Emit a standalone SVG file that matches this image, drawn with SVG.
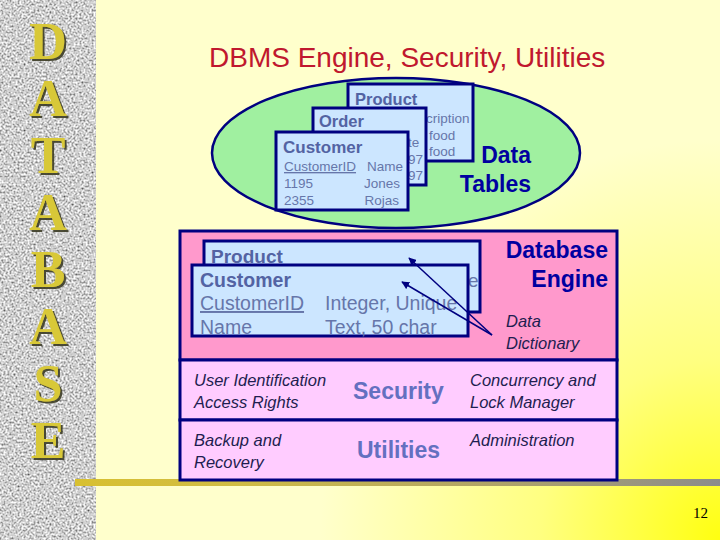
<svg xmlns="http://www.w3.org/2000/svg" width="720" height="540" viewBox="0 0 720 540">
<defs>
  <radialGradient id="bg" cx="720" cy="540" r="400" gradientUnits="userSpaceOnUse">
    <stop offset="0" stop-color="#FFFF10"/>
    <stop offset="0.45" stop-color="#FFFF80"/>
    <stop offset="1" stop-color="#FFFFCC"/>
  </radialGradient>
  <linearGradient id="bar" x1="75" y1="0" x2="720" y2="0" gradientUnits="userSpaceOnUse">
    <stop offset="0" stop-color="#D8C030"/>
    <stop offset="0.25" stop-color="#D0BC44"/>
    <stop offset="0.65" stop-color="#B0A468"/>
    <stop offset="1" stop-color="#8C8C8C"/>
  </linearGradient>
  <filter id="granite" x="0" y="0" width="100%" height="100%">
    <feTurbulence type="fractalNoise" baseFrequency="0.5" numOctaves="3" seed="7"/>
    <feColorMatrix type="matrix" values="1.55 0 0 0 -0.15  1.55 0 0 0 -0.15  1.55 0 0 0 -0.15  0 0 0 0 1"/>
  </filter>
  <filter id="shadow" x="-20%" y="-20%" width="140%" height="140%">
    <feDropShadow dx="2" dy="2" stdDeviation="0.6" flood-color="#3A3A20" flood-opacity="0.9"/>
  </filter>
  <marker id="arr" viewBox="0 0 10 10" refX="9" refY="5" markerWidth="8" markerHeight="8" markerUnits="userSpaceOnUse" orient="auto">
    <path d="M0,0 L10,5 L0,10 z" fill="#000080"/>
  </marker>
  <style>
    .sans{font-family:"Liberation Sans",Arial,sans-serif}
    .letter{font-family:"Liberation Serif","Times New Roman",serif;font-weight:bold;font-size:52px;text-anchor:middle;fill:#D8C838}
    .box{fill:#CCE6FF;stroke:#000080;stroke-width:3}
    .th{font-family:"Liberation Sans",Arial,sans-serif;font-weight:bold;fill:#5363A3}
    .tr{font-family:"Liberation Sans",Arial,sans-serif;fill:#6676AA}
    .big{font-family:"Liberation Sans",Arial,sans-serif;font-weight:bold;fill:#0000A0}
    .it{font-family:"Liberation Sans",Arial,sans-serif;font-style:italic;font-size:16.5px;fill:#1E1E50}
    .mid{font-family:"Liberation Sans",Arial,sans-serif;font-weight:bold;font-size:23px;fill:#6470C0}
    .conn{stroke:#000080;stroke-width:1.5;fill:none}
  </style>
</defs>

<rect x="0" y="0" width="720" height="540" fill="url(#bg)"/>

<g id="strip">
  <rect x="0" y="0" width="96" height="540" fill="#A0A0A0" filter="url(#granite)"/>
  <g class="letter" filter="url(#shadow)">
    <text x="48" y="59">D</text>
    <text x="48" y="116">A</text>
    <text x="48" y="173">T</text>
    <text x="48" y="230">A</text>
    <text x="48" y="287">B</text>
    <text x="48" y="344">A</text>
    <text x="48" y="401">S</text>
    <text x="48" y="458">E</text>
  </g>
</g>

<rect id="rule" x="75" y="479" width="645" height="7" fill="url(#bar)"/>

<text id="title" class="sans" x="209" y="67" font-size="28" fill="#C0182E">DBMS Engine, Security, Utilities</text>

<g id="data-tables">
  <ellipse cx="396" cy="153" rx="184" ry="75" fill="#A0F0A0" stroke="#000080" stroke-width="2.5"/>
  <text class="big" font-size="23" text-anchor="end" x="531" y="163">Data</text>
  <text class="big" font-size="23" text-anchor="end" x="531" y="192">Tables</text>
</g>

<g id="tbl-product">
  <rect class="box" x="348" y="84" width="125" height="77"/>
  <text class="th" font-size="16.5" x="355" y="105">Product</text>
  <text class="tr" font-size="13.5" x="426" y="123">cription</text>
  <text class="tr" font-size="13.5" x="429" y="140">food</text>
  <text class="tr" font-size="13.5" x="429" y="156">food</text>
</g>

<g id="tbl-order">
  <rect class="box" x="313" y="108" width="113" height="77"/>
  <text class="th" font-size="16.5" x="319" y="127">Order</text>
  <text class="tr" font-size="13.5" x="408" y="147">te</text>
  <text class="tr" font-size="13.5" x="408" y="164">97</text>
  <text class="tr" font-size="13.5" x="408" y="180">97</text>
</g>

<g id="tbl-customer">
  <rect class="box" x="276" y="132" width="132" height="78"/>
  <text class="th" font-size="17" x="283" y="153">Customer</text>
  <text class="tr" font-size="13.5" x="284" y="171" text-decoration="underline">CustomerID</text>
  <text class="tr" font-size="13.5" x="403" y="171" text-anchor="end">Name</text>
  <text class="tr" font-size="13.5" x="284" y="188">1195</text>
  <text class="tr" font-size="13.5" x="400" y="188" text-anchor="end">Jones</text>
  <text class="tr" font-size="13.5" x="284" y="205">2355</text>
  <text class="tr" font-size="13.5" x="399" y="205" text-anchor="end">Rojas</text>
</g>

<g id="engine">
  <rect x="180" y="231" width="437" height="129" fill="#FF99CC" stroke="#000080" stroke-width="3"/>
  <text class="big" font-size="23" text-anchor="end" x="608" y="258">Database</text>
  <text class="big" font-size="23" text-anchor="end" x="608" y="287">Engine</text>
  <text class="it" x="506" y="327">Data</text>
  <text class="it" x="506" y="349">Dictionary</text>
</g>

<g id="dict-product">
  <rect class="box" x="204" y="241" width="276" height="71"/>
  <text class="th" font-size="19" x="211" y="263">Product</text>
  <text class="tr" font-size="19" x="468" y="287" fill="#7080B0">e</text>
</g>

<g id="dict-customer">
  <rect class="box" x="192" y="265" width="276" height="71"/>
  <text class="th" font-size="19.5" x="200" y="287">Customer</text>
  <text class="tr" font-size="19.5" x="200" y="310" text-decoration="underline">CustomerID</text>
  <text class="tr" font-size="19.5" x="325" y="310">Integer, Unique</text>
  <text class="tr" font-size="19.5" x="200" y="334">Name</text>
  <text class="tr" font-size="19.5" x="325" y="334">Text, 50 char</text>
</g>

<g id="security">
  <rect x="180" y="360" width="437" height="60" fill="#FFCCFF" stroke="#000080" stroke-width="3"/>
  <text class="it" x="194" y="386">User Identification</text>
  <text class="it" x="194" y="408">Access Rights</text>
  <text class="mid" x="353" y="399">Security</text>
  <text class="it" x="470" y="386">Concurrency and</text>
  <text class="it" x="470" y="408">Lock Manager</text>
</g>

<g id="utilities">
  <rect x="180" y="420" width="437" height="60" fill="#FFCCFF" stroke="#000080" stroke-width="3"/>
  <text class="it" x="194" y="446">Backup and</text>
  <text class="it" x="194" y="468">Recovery</text>
  <text class="mid" x="357" y="458">Utilities</text>
  <text class="it" x="470" y="446">Administration</text>
</g>

<g id="connectors">
  <line class="conn" x1="492" y1="335" x2="409" y2="258" marker-end="url(#arr)"/>
  <line class="conn" x1="492" y1="335" x2="402" y2="282" marker-end="url(#arr)"/>
</g>

<text id="page" x="708" y="518" font-family="'Liberation Serif','Times New Roman',serif" font-size="15" text-anchor="end" fill="#000000">12</text>
</svg>
